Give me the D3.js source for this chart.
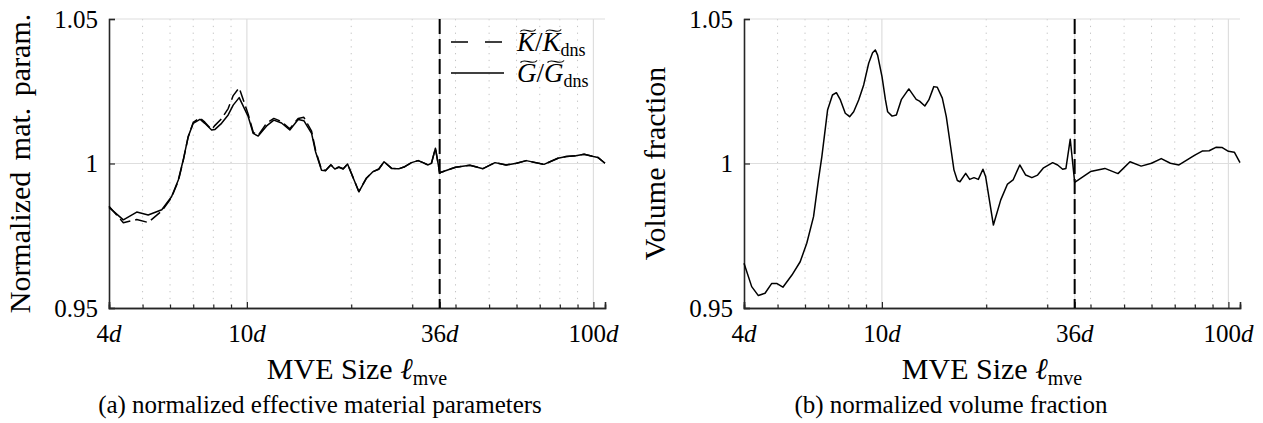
<!DOCTYPE html>
<html>
<head>
<meta charset="utf-8">
<script src="https://cdn.jsdelivr.net/npm/d3@7"></script>
<style>
  body { margin: 0; background: #fff; }
  svg text { font-family: "Liberation Serif", "Times New Roman", serif; fill: #000; }
</style>
</head>
<body>
<svg id="chart" width="1263" height="423"></svg>
<script>
// (a) normalized effective material parameters
let sizesA = [4.0, 4.4, 4.81, 5.19, 5.68, 6.06, 6.34, 6.55, 6.77, 7.0,
              7.32, 7.56, 7.91, 8.09, 8.45, 8.83, 9.13, 9.5, 10.09, 10.43,
              10.78, 11.4, 11.96, 12.59, 13.3, 14.06, 14.6, 15.37, 15.78, 16.42,
              16.86, 17.47, 17.94, 18.42, 18.96, 19.52, 21.04, 22.14, 23.13, 24.02,
              24.88, 26.14, 27.44, 28.55, 29.85, 31.19, 32.24, 33.33, 34.09, 35.0,
              36.0, 40, 44, 48, 52, 56, 60, 64, 72, 79,
              83.5, 89, 94, 100, 103, 108];
let kRatio = [0.9852, 0.9795, 0.9806, 0.9796, 0.9836, 0.9882, 0.994, 1.001, 1.0092, 1.0142,
              1.0158, 1.0143, 1.0118, 1.0132, 1.0155, 1.019, 1.0235, 1.0262, 1.017, 1.0108,
              1.0097, 1.014, 1.0156, 1.0145, 1.012, 1.0156, 1.016, 1.0112, 1.0046, 0.9979,
              0.9976, 0.9996, 0.9982, 0.9988, 0.9982, 0.9998, 0.9903, 0.995, 0.9972, 0.9981,
              1.0006, 0.9984, 0.9982, 0.9989, 1.0003, 1.001, 1.0003, 0.9995, 1.0001, 1.0053,
              0.9968, 0.9987, 0.9994, 0.9982, 1.0003, 0.9995, 1.0001, 1.001, 0.9997, 1.0018,
              1.0024, 1.0027, 1.0032, 1.0024, 1.0021, 1.0001];
let gRatio = [0.9848, 0.9805, 0.9832, 0.9822, 0.984, 0.9885, 0.9943, 1.0012, 1.0093, 1.0139,
              1.0153, 1.0139, 1.0116, 1.0118, 1.0139, 1.0168, 1.0202, 1.0228, 1.0162, 1.0104,
              1.0095, 1.013, 1.015, 1.014, 1.0116, 1.0152, 1.0148, 1.0104, 1.0041, 0.9977,
              0.9975, 0.9995, 0.9981, 0.9987, 0.9981, 0.9998, 0.9902, 0.9949, 0.9972, 0.998,
              1.0006, 0.9983, 0.9982, 0.9989, 1.0003, 1.001, 1.0003, 0.9995, 1.0001, 1.0053,
              0.9968, 0.9987, 0.9994, 0.9982, 1.0003, 0.9995, 1.0001, 1.001, 0.9997, 1.0018,
              1.0024, 1.0027, 1.0032, 1.0024, 1.0021, 1.0001];

// (b) normalized volume fraction
let sizesB = [4.0, 4.21, 4.4, 4.6, 4.81, 4.97, 5.18, 5.5, 5.81, 6.07,
              6.35, 6.56, 6.71, 6.97, 7.2, 7.39, 7.59, 7.84, 8.07, 8.29,
              8.57, 8.86, 9.16, 9.4, 9.57, 9.72, 10.01, 10.24, 10.39, 10.7,
              11.01, 11.39, 11.96, 12.56, 12.84, 13.3, 13.66, 14.12, 14.45, 14.94,
              15.34, 15.79, 16.14, 16.51, 16.8, 17.45, 17.92, 18.44, 18.98, 19.57,
              19.93, 20.98, 22.03, 23.04, 23.91, 25.0, 26.0, 27.09, 28.14, 29.28,
              31.1, 32.15, 33.24, 33.97, 34.96, 36, 40, 44, 48, 52,
              56, 60, 64, 68, 72, 80, 84, 88, 92, 96,
              100, 104, 108];
let volFrac = [0.9655, 0.9574, 0.9543, 0.9551, 0.9585, 0.9585, 0.9572, 0.9614, 0.966, 0.9724,
               0.9816, 0.9943, 1.0024, 1.0185, 1.0237, 1.0245, 1.022, 1.0174, 1.0162, 1.0179,
               1.022, 1.0272, 1.0347, 1.0383, 1.0393, 1.0375, 1.03, 1.022, 1.0179, 1.0164,
               1.0168, 1.0222, 1.0258, 1.0222, 1.0216, 1.0199, 1.022, 1.0266, 1.0264, 1.0226,
               1.0162, 1.0058, 0.9978, 0.9941, 0.9937, 0.9966, 0.9945, 0.9951, 0.9945, 0.998,
               0.9954, 0.9787, 0.9874, 0.9929, 0.9943, 0.9995, 0.996, 0.9951, 0.996, 0.9985,
               1.0003, 0.9995, 0.998, 0.9983, 1.0084, 0.9935, 0.9972, 0.9983, 0.9965, 1.0006,
               0.9991, 1.0001, 1.0017, 1.0001, 0.9995, 1.0029, 1.0043, 1.0044, 1.0056, 1.0055,
               1.0042, 1.0039, 1.0003];

let xTicks = [4, 10, 36, 100];
let xMinor = [5, 6, 7, 8, 9, 20, 30, 40, 50, 60, 70, 80, 90];
let xMajorGrid = [10, 36, 100];
let yTicks = [0.95, 1, 1.05];
let yTickLabels = ["0.95", "1", "1.05"];
let xDomain = [4, 108];
let yDomain = [0.95, 1.05];
let chosenSize = 36;

let svg = d3.select("#chart");
let top_ = 19, bottom = 308;
let axisColor = "#262626";

function drawPanel(cfg) {
    let x = d3.scaleLog().domain(xDomain).range([cfg.left, cfg.right]);
    let y = d3.scaleLinear().domain(yDomain).range([bottom, top_]);
    let g = svg.append("g");

    // grid
    g.selectAll(".minor").data(xMinor).enter().append("line")
        .attr("x1", d => x(d)).attr("x2", d => x(d))
        .attr("y1", top_).attr("y2", bottom)
        .attr("stroke", "#c4c4c4").attr("stroke-width", 1)
        .attr("stroke-dasharray", "1.3,5.5");
    g.selectAll(".xgrid").data(xMajorGrid).enter().append("line")
        .attr("x1", d => x(d)).attr("x2", d => x(d))
        .attr("y1", top_).attr("y2", bottom)
        .attr("stroke", "#dedede").attr("stroke-width", 1.2);
    g.selectAll(".ygrid").data(yTicks.slice(1)).enter().append("line")
        .attr("x1", cfg.left).attr("x2", cfg.right)
        .attr("y1", d => y(d)).attr("y2", d => y(d))
        .attr("stroke", "#dedede").attr("stroke-width", 1.2);

    // axes, ticks point inward like matlab
    let xAxis = d3.axisBottom(x).tickValues(xTicks).tickSize(-6).tickFormat("");
    let xAxisMinor = d3.axisBottom(x).tickValues(xMinor).tickSize(-3.5).tickFormat("");
    let yAxis = d3.axisLeft(y).tickValues(yTicks).tickSize(-6).tickFormat("");
    [xAxis, xAxisMinor].forEach(a => {
        g.append("g").attr("transform", "translate(0," + bottom + ")").call(a);
    });
    g.append("g").attr("transform", "translate(" + cfg.left + ",0)").call(yAxis);
    g.selectAll(".domain").attr("stroke", axisColor).attr("stroke-width", 1.6);
    g.selectAll(".tick line").attr("stroke", axisColor).attr("stroke-width", 1.2);

    // tick labels
    xTicks.forEach(t => {
        let tx = g.append("text")
            .attr("x", x(t)).attr("y", 342)
            .attr("text-anchor", "middle")
            .style("font-size", "25px");
        tx.append("tspan").text(t);
        tx.append("tspan").style("font-style", "italic").text("d");
    });
    yTicks.forEach((t, i) => {
        g.append("text")
            .attr("x", cfg.left - 11).attr("y", y(t) + 8.5)
            .attr("text-anchor", "end")
            .style("font-size", "25px")
            .text(yTickLabels[i]);
    });

    // axis labels
    let mid = (cfg.left + cfg.right) / 2;
    let xl = g.append("text").attr("x", mid).attr("y", 379)
        .attr("text-anchor", "middle").style("font-size", "30px");
    xl.append("tspan").text("MVE Size ");
    xl.append("tspan").style("font-style", "italic").text("\u2113");
    xl.append("tspan").attr("dy", 6).style("font-size", "20px").text("mve");

    g.append("text")
        .attr("transform", "translate(" + (cfg.left - 79) + "," + ((top_ + bottom) / 2) + ") rotate(-90)")
        .attr("text-anchor", "middle")
        .style("font-size", "30px")
        .style("word-spacing", cfg.wordSpacing)
        .text(cfg.ylabel);

    g.append("text")
        .attr("x", cfg.caption_x).attr("y", 413)
        .attr("text-anchor", "middle")
        .style("font-size", "25px")
        .text(cfg.caption);

    // curves
    let line = d3.line().x(d => x(d[0])).y(d => y(d[1]));
    cfg.series.forEach(s => {
        g.append("path")
            .datum(d3.zip(s.sizes, s.values))
            .attr("d", line)
            .attr("fill", "none")
            .attr("stroke", "#000")
            .attr("stroke-width", 1.5)
            .attr("stroke-linejoin", "round")
            .attr("stroke-dasharray", s.dash);
    });

    // chosen MVE size
    g.append("line")
        .attr("x1", x(chosenSize)).attr("x2", x(chosenSize))
        .attr("y1", y(yDomain[1])).attr("y2", y(yDomain[0]))
        .attr("stroke", "#000").attr("stroke-width", 2)
        .attr("stroke-dasharray", "15,5");

    if (cfg.legend) {
        cfg.series.forEach((s, i) => {
            let ly = 42 + i * 31;
            g.append("line")
                .attr("x1", 451).attr("x2", 504)
                .attr("y1", ly).attr("y2", ly)
                .attr("stroke", "#000").attr("stroke-width", 1.5)
                .attr("stroke-dasharray", s.dash ? "17,17" : null);
            let lt = g.append("text").attr("x", 517).attr("y", ly + 9)
                .style("font-size", "27px");
            lt.append("tspan").style("font-style", "italic").text(s.sym);
            lt.append("tspan").text("/");
            lt.append("tspan").style("font-style", "italic").text(s.sym);
            lt.append("tspan").attr("dy", 5).style("font-size", "18px").text("dns");
            // wide tilde drawn over each symbol
            [0, 2].forEach(idx => {
                let ext = lt.node().getExtentOfChar(idx);
                let cx = ext.x + ext.width / 2 + 2, w = ext.width * 0.85, ty = ly - 12;
                g.append("path")
                    .attr("d", "M" + (cx - w / 2) + "," + (ty + 1.5)
                        + " C" + (cx - w / 4) + "," + (ty - 3.5) + " " + (cx + w / 4) + "," + (ty + 5)
                        + " " + (cx + w / 2) + "," + (ty - 0.5))
                    .attr("fill", "none").attr("stroke", "#000").attr("stroke-width", 1.2);
            });
        });
    }
}

drawPanel({
    left: 109, right: 605,
    ylabel: "Normalized mat. param.",
    wordSpacing: "4px",
    caption: "(a) normalized effective material parameters",
    caption_x: 320,
    legend: true,
    series: [
        {sizes: sizesA, values: kRatio, dash: "12,5", sym: "K"},
        {sizes: sizesA, values: gRatio, dash: null, sym: "G"}
    ]
});

drawPanel({
    left: 744, right: 1240,
    ylabel: "Volume fraction",
    wordSpacing: "0px",
    caption: "(b) normalized volume fraction",
    caption_x: 951,
    legend: false,
    series: [
        {sizes: sizesB, values: volFrac, dash: null}
    ]
});
</script>
</body>
</html>
